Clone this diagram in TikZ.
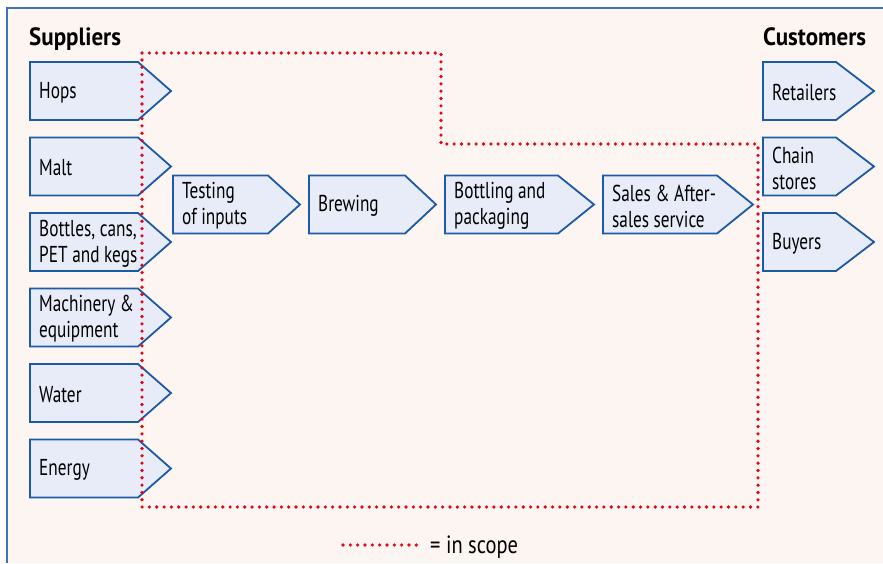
\documentclass[tikz,border=0pt]{standalone}
\usepackage{fontspec}
\setmainfont{PT Sans}[FakeStretch=0.75]
\newfontfamily\headfont{PT Sans}[FakeStretch=0.92]
\newfontfamily\legfont{PT Sans}[FakeStretch=0.82]
\definecolor{bgpink}{HTML}{FDF5F2}
\definecolor{boxfill}{HTML}{E8ECF8}
\definecolor{boxblue}{HTML}{1D5AA5}
\definecolor{frameblue}{HTML}{3D73BA}
\definecolor{scopered}{HTML}{E3061A}
\newcommand\chev[6]{% name, x, ytop, body width, tip width, text
  \path[chevbox] (#2,#3) -- ++(#4,0) -- ++(#5,29) -- ++(-#5,29) -- ++(-#4,0) -- cycle;
  \node[lab] (#1) at (#2+9,#3+30.5) {#6};}
\begin{document}
\begin{tikzpicture}[x=1pt,y=-1pt,
  font=\fontsize{23}{26}\selectfont,
  chevbox/.style={draw=boxblue, fill=boxfill, line width=1.8pt, line join=miter},
  lab/.style={anchor=west, align=left, inner sep=0pt, text=black},
  head/.style={anchor=base west, inner sep=0pt, font=\headfont\fontsize{25}{28}\selectfont\bfseries},
  inscope/.style={draw=scopered, line width=3.6pt, line cap=round, dash pattern=on 0pt off 7.33pt}]
\useasboundingbox (0,0) rectangle (883,563);
\fill[bgpink] (7,8) rectangle (883,563);
\draw[frameblue, line width=1.5pt] (7,563) -- (7,8) -- (883,8);
% headers
\node[head] (suppliers) at (29,45) {Suppliers};
\node[head] (customers) at (763,45) {Customers};
% suppliers
\chev{hops}{30}{62}{108}{33}{Hops}
\chev{malt}{30}{137.5}{108}{33}{Malt}
\chev{bottles}{30}{213}{108}{33}{Bottles, cans,\\PET and kegs}
\chev{machinery}{30}{288.5}{108}{33}{Machinery \&\\equipment}
\chev{water}{30}{364}{108}{33}{Water}
\chev{energy}{30}{439.5}{108}{33}{Energy}
% process
\chev{testing}{173}{175.5}{95}{32}{Testing\\of inputs}
\chev{brewing}{309}{175.5}{96}{31}{Brewing}
\chev{bottling}{445}{175.5}{113}{36}{Bottling and\\packaging}
\chev{sales}{603}{175.5}{114}{36}{Sales \& After-\\sales service}
% customers
\chev{retailers}{763}{62}{73}{38}{Retailers}
\chev{chain}{763}{137.5}{73}{38}{Chain\\stores}
\chev{buyers}{763}{213}{73}{38}{Buyers}
% scope boundary
\draw[inscope] (142,53) -- (441,53) -- (441,144) -- (758,144) -- (758,507) -- (142,507) -- cycle;
% legend
\node[anchor=base west, inner sep=0pt, font=\legfont\fontsize{25}{28}\selectfont] (legend) at (430,553) {= in scope};
\coordinate (legstart) at (343,545);
\draw[inscope] (legstart) -- ([xshift=-8pt]legend.west |- legstart);
\end{tikzpicture}
\end{document}
